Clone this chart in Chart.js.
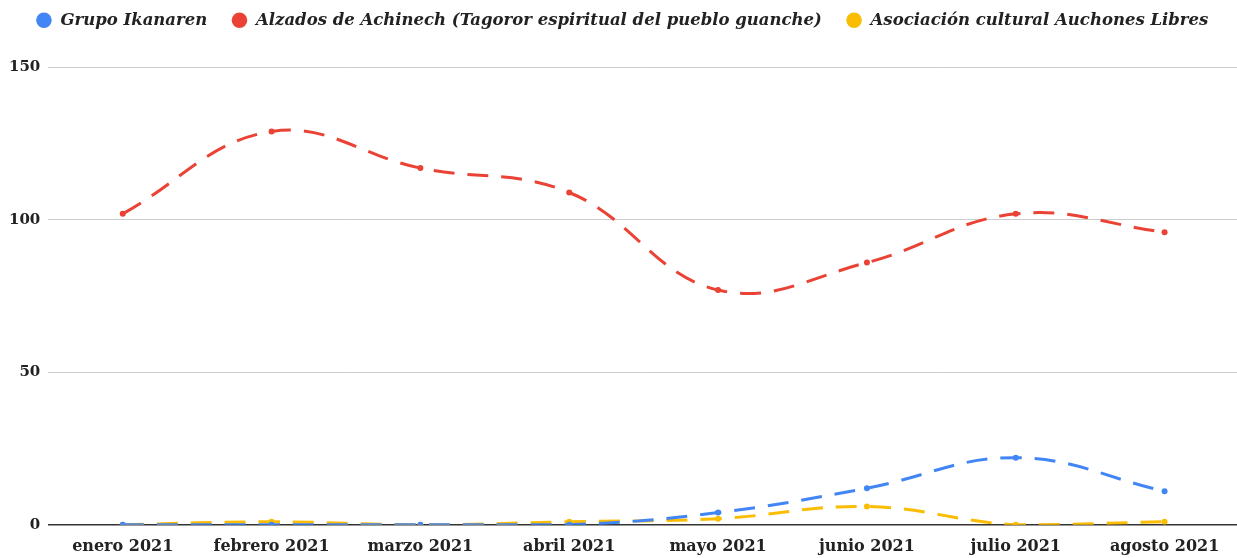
<!DOCTYPE html>
<html>
<head>
<meta charset="utf-8">
<script src="https://cdn.jsdelivr.net/npm/chart.js@4/dist/chart.umd.min.js"></script>
<style>
  html, body { margin: 0; padding: 0; background: #ffffff; overflow: hidden; }
  #wrap { width: 1243px; height: 558px; }
</style>
</head>
<body>
<div id="wrap"><canvas id="chart"></canvas></div>
<script>
// Datos
const meses = ['enero 2021', 'febrero 2021', 'marzo 2021', 'abril 2021', 'mayo 2021', 'junio 2021', 'julio 2021', 'agosto 2021'];
const grupoIkanaren = [0, 0, 0, 0, 4, 12, 22, 11];
const alzadosAchinech = [102, 129, 117, 109, 77, 86, 102, 96];
const auchonesLibres = [0, 1, 0, 1, 2, 6, 0, 1];
const yTicks = [0, 50, 100, 150];

const serif = 'Georgia, "DejaVu Serif", serif';

function serie(label, data, color) {
    return {
        label: label,
        data: data,
        borderColor: color,
        backgroundColor: color,
        borderWidth: 3,
        borderDash: [21, 13],
        tension: 0.4,
        pointRadius: 3,
        pointHoverRadius: 4,
        pointBorderWidth: 0,
        fill: false
    };
}

// Más espacio entre la leyenda y el gráfico
const legendMargin = {
    id: 'legendMargin',
    beforeInit(chart) {
        const fit = chart.legend.fit;
        chart.legend.fit = function () {
            fit.bind(chart.legend)();
            this.height += 29;
        };
    }
};

new Chart(document.getElementById('chart').getContext('2d'), {
    type: 'line',
    data: {
        labels: meses,
        datasets: [
            serie('Grupo Ikanaren', grupoIkanaren, '#4285F4'),
            serie('Alzados de Achinech (Tagoror espiritual del pueblo guanche)', alzadosAchinech, '#EA4335'),
            serie('Asociación cultural Auchones Libres', auchonesLibres, '#FBBC04')
        ]
    },
    plugins: [legendMargin],
    options: {
        responsive: true,
        maintainAspectRatio: false,
        animation: false,
        layout: { padding: { left: 1, right: 0, top: -12, bottom: -2 } },
        plugins: {
            legend: {
                position: 'top',
                labels: {
                    usePointStyle: true,
                    pointStyle: 'circle',
                    boxWidth: 17,
                    boxHeight: 11,
                    padding: 24,
                    color: '#222222',
                    font: { family: serif, size: 16.5, style: 'italic', weight: 'bold' }
                }
            },
            tooltip: { enabled: false }
        },
        scales: {
            x: {
                offset: true,
                grid: { display: false },
                border: { display: false },
                ticks: {
                    color: '#222222',
                    padding: 4,
                    maxRotation: 0,
                    font: { family: serif, size: 16, weight: 'bold' }
                }
            },
            y: {
                min: 0,
                max: 150,
                afterBuildTicks: axis => { axis.ticks = yTicks.map(v => ({ value: v })); },
                border: { display: false },
                grid: {
                    drawTicks: false,
                    color: ctx => ctx.tick && ctx.tick.value === 0 ? '#333333' : '#cccccc',
                    lineWidth: ctx => ctx.tick && ctx.tick.value === 0 ? 1.5 : 1
                },
                ticks: {
                    color: '#222222',
                    padding: 8,
                    font: { family: serif, size: 15, weight: 'bold' }
                }
            }
        }
    }
});
</script>
</body>
</html>
